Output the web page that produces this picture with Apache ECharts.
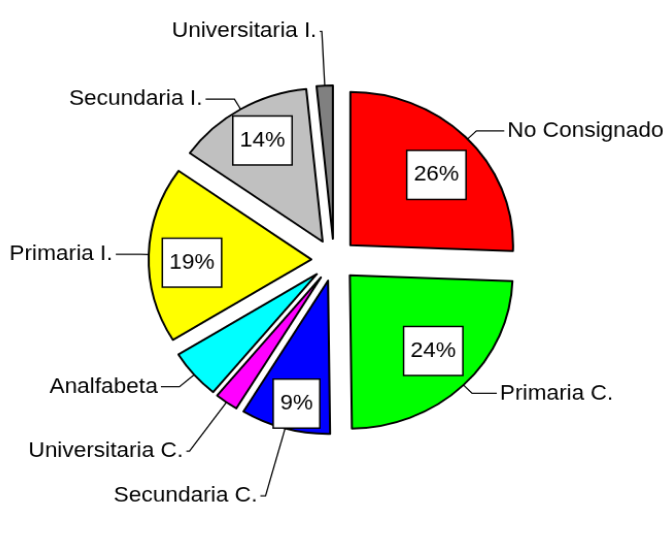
<!DOCTYPE html>
<html>
<head>
<meta charset="utf-8">
<script src="https://cdn.jsdelivr.net/npm/echarts@6/dist/echarts.min.js"></script>
<style>
  html, body { margin: 0; padding: 0; background: #fff; overflow: hidden; }
  /* the original pie is slightly wider than tall */
  #chart { width: 665px; height: 533px; transform: scale(1.03, 0.97); transform-origin: 334px 260px; }
</style>
</head>
<body>
<div id="chart"></div>
<script>
// categories, clockwise from 12 o'clock
const categories = ['No Consignado', 'Primaria C.', 'Secundaria C.', 'Universitaria C.',
  'Analfabeta', 'Primaria I.', 'Secundaria I.', 'Universitaria I.']
// percent values
const values = [25.6, 24.2, 8.9, 2.3, 5.2, 18.6, 13.6, 1.6]
const colors = ['#ff0000', '#00ff00', '#0000ff', '#ff00ff',
  '#00ffff', '#ffff00', '#c0c0c0', '#808080']

// leader line lengths for each name label [length, length2]
const leader = [[12, 27], [12, 24], [72, 5], [62, 3], [19, 18], [8, 24], [12, 28], [56, 2]]
// small nudges of the percentage boxes [dx, dy]
const boxNudge = [[0, 8], [0, -5], [0, 15], [0, 0], [0, 0], [0, 7], [0, -4], [0, 0]]

const FONT = '"Liberation Sans", Arial, sans-serif'
const CENTER = [334, 260]
const OFFSET = 22

const chart = echarts.init(document.getElementById('chart'))

const sliceData = categories.map((name, i) => ({
  name,
  value: values[i],
  selected: true,
  itemStyle: { color: colors[i] },
  labelLine: { length: leader[i][0], length2: leader[i][1] }
}))

// transparent copy, only to carry the percentage boxes
const boxData = categories.map((name, i) => ({
  name,
  value: values[i],
  selected: true,
  label: { show: values[i] >= 8 }
}))

chart.setOption({
  animation: false,
  series: [
    {
      type: 'pie',
      center: CENTER,
      radius: 158,
      startAngle: 90,
      clockwise: true,
      selectedMode: 'multiple',
      selectedOffset: OFFSET,
      avoidLabelOverlap: false,
      itemStyle: { borderColor: '#000', borderWidth: 2 },
      select: { itemStyle: { borderColor: '#000', borderWidth: 2 } },
      label: {
        position: 'outside',
        formatter: '{b}',
        color: '#000',
        fontFamily: FONT,
        fontSize: 22,
        distanceToLabelLine: 3
      },
      labelLine: { lineStyle: { color: '#000', width: 1.3 }, smooth: false },
      emphasis: { disabled: true },
      data: sliceData
    },
    {
      type: 'pie',
      center: CENTER,
      radius: 226,
      startAngle: 90,
      clockwise: true,
      selectedMode: 'multiple',
      selectedOffset: OFFSET,
      avoidLabelOverlap: false,
      silent: true,
      itemStyle: { color: 'rgba(0,0,0,0)', borderWidth: 0 },
      select: { itemStyle: { color: 'rgba(0,0,0,0)', borderWidth: 0 } },
      label: {
        position: 'inside',
        formatter: p => Math.round(p.percent) + '%',
        color: '#000',
        fontFamily: FONT,
        fontSize: 22,
        backgroundColor: '#fff',
        borderColor: '#000',
        borderWidth: 1.5,
        padding: [14, 6, 13, 6]
      },
      labelLayout: p => ({ dx: boxNudge[p.dataIndex][0], dy: boxNudge[p.dataIndex][1] }),
      labelLine: { show: false },
      emphasis: { disabled: true },
      data: boxData
    }
  ]
})
</script>
</body>
</html>
